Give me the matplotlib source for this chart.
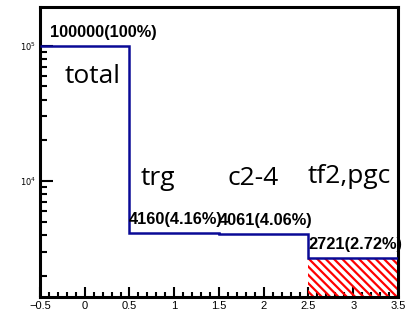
import matplotlib

matplotlib.use("Agg")
import matplotlib.pyplot as plt
from matplotlib.ticker import FixedLocator, LogLocator, NullFormatter, MultipleLocator

# histogram bins (centres) and contents
bin_centres = [0, 1, 2, 3]
counts = [100000, 4160, 4061, 2721]
value_labels = ["100000(100%)", "4160(4.16%)", "4061(4.06%)", "2721(2.72%)"]
cut_names = ["total", "trg", "c2-4", "tf2,pgc"]
hatched_bin = 3

plt.rcParams["hatch.linewidth"] = 1.6
plt.rcParams["mathtext.fontset"] = "custom"
plt.rcParams["mathtext.rm"] = "Liberation Sans"

fig = plt.figure(figsize=(4.1, 3.18), dpi=100)
ax = fig.add_axes([0.0976, 0.066, 0.873, 0.912])

edges = [c - 0.5 for c in bin_centres] + [bin_centres[-1] + 0.5]
ax.stairs(counts, edges, baseline=None, color="#0a0a96", linewidth=1.8, zorder=3)

# hatched last bin
ax.bar(bin_centres[hatched_bin], counts[hatched_bin], width=1.0, bottom=1,
       facecolor="none", edgecolor="#ff0000", hatch="\\\\\\\\", linewidth=0, zorder=2)

ax.set_yscale("log")
ax.set_xlim(-0.5, 3.5)
ax.set_ylim(1390, 1.93e5)

# value labels above bins
for i, (c, v) in enumerate(zip(bin_centres, counts)):
    xc = c + 0.21 if i == 0 else c + 0.02
    ax.annotate(value_labels[i], (xc, v), xytext=(0, 4), textcoords="offset points",
                ha="center", va="bottom", fontsize=11.8, fontweight="bold",
                family="Liberation Sans", zorder=4)

# cut names
name_pos = [(-0.22, 5.3e4), (0.62, 9.3e3), (1.6, 9.3e3), (2.49, 9.6e3)]
for name, (x, y) in zip(cut_names, name_pos):
    ax.text(x, y, name, fontsize=19, family="Open Sans", ha="left", va="baseline")

ax.xaxis.set_major_locator(MultipleLocator(0.5))
ax.xaxis.set_minor_locator(MultipleLocator(0.1))
ax.set_xticks([-0.5, 0, 0.5, 1, 1.5, 2, 2.5, 3, 3.5])
ax.set_xticklabels(["\u22120.5", "0", "0.5", "1", "1.5", "2", "2.5", "3", "3.5"],
                   family="Liberation Sans", fontsize=8)
ax.yaxis.set_major_locator(FixedLocator([1e4, 1e5]))
ax.yaxis.set_minor_locator(LogLocator(base=10, subs=range(2, 10)))
ax.yaxis.set_minor_formatter(NullFormatter())
ax.set_yticklabels([r"$\mathregular{10^{4}}$", r"$\mathregular{10^{5}}$"], fontsize=6)

ax.tick_params(which="both", direction="in", top=False, right=False, width=1.5)
ax.tick_params(axis="x", which="major", length=7, pad=3)
ax.tick_params(axis="x", which="minor", length=3.5)
ax.tick_params(axis="y", which="major", length=9, pad=3)
ax.tick_params(axis="y", which="minor", length=5)

for s in ax.spines.values():
    s.set_linewidth(2.2)

fig.savefig("out.png", dpi=100)
